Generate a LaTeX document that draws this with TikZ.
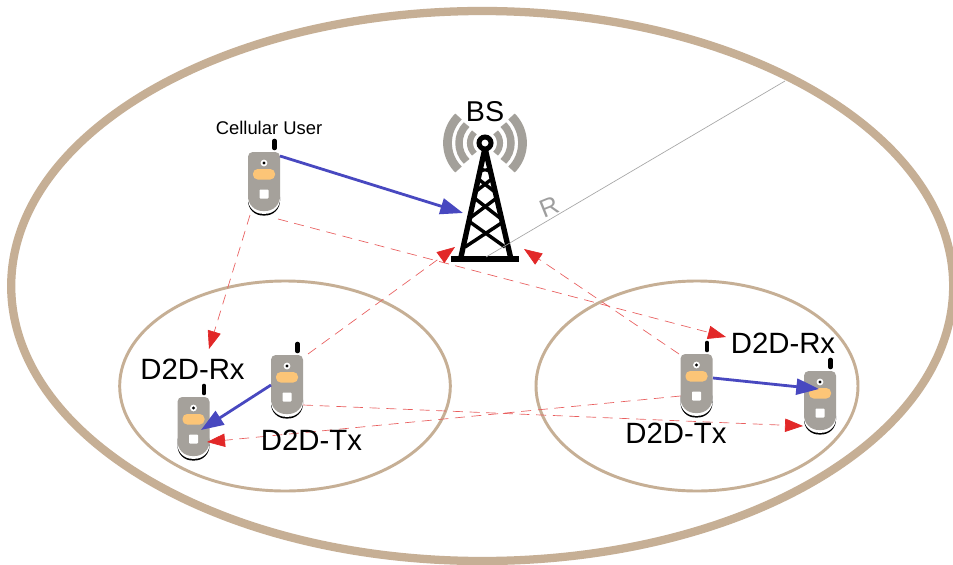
\documentclass[tikz,border=0pt]{standalone}
\usepackage{fontspec}
\setmainfont{Liberation Sans}
\usetikzlibrary{arrows.meta,calc,shapes.geometric}
\definecolor{rim}{HTML}{C6AF95}
\definecolor{phonegrey}{HTML}{A5A19B}
\definecolor{pill}{HTML}{FCC577}
\definecolor{linkblue}{HTML}{4848C0}
\definecolor{linkred}{HTML}{E22828}
\definecolor{wave}{HTML}{A3A09A}
\tikzset{
  rimring/.style={ellipse,draw=rim,inner sep=0pt,outer sep=0pt},
  phonebox/.style={rectangle,minimum width=24pt,minimum height=44pt,inner sep=0pt,outer sep=0pt},
  label22/.style={inner sep=0pt,font=\fontsize{22}{22}\selectfont},
  wantedlink/.style={draw=linkblue,line width=2.1pt,-{Triangle[length=17pt,width=12pt]}},
  interference/.style={draw=linkred!75,line width=0.5pt,dash pattern=on 7.5pt off 5pt,-{Triangle[length=13.5pt,width=10pt,color=linkred]}},
  legline/.style={line width=4pt,black},
  brace/.style={line width=2.6pt,black},
  waveline/.style={draw=wave},
}
% name, centre x, top y
\newcommand{\phonepic}[3]{%
  \begin{scope}[shift={(#2,#3)}]
    \draw[line width=3.5pt,line cap=round,black] (10.5,-11) -- (10.5,-4);
    \fill[black,rounded corners=11pt] (-16,30) -- (-16,63.5) -- (16,63.5) -- (16,30) -- cycle;
    \fill[white,rounded corners=11pt] (-16,30) -- (-16,61.8) -- (16,61.8) -- (16,30) -- cycle;
    \fill[phonegrey] (-16,30) [rounded corners=3.5pt] -- (-16,0) -- (16,0) [rounded corners=0pt] -- (16,30) [rounded corners=11pt] -- (16,59) -- (-16,59) [rounded corners=0pt] -- cycle;
    \fill[white] (0,11) circle[radius=3.4];
    \fill[black] (0,11) circle[radius=1.7];
    \fill[pill,rounded corners=3.5pt] (-11,17) rectangle (11,27.5);
    \fill[white,rounded corners=0.6pt] (-4.5,37.5) rectangle (4.5,46.5);
    \node[phonebox] (#1) at (0,30) {};
  \end{scope}}
\begin{document}
\begin{tikzpicture}[x=0.75pt,y=-0.75pt]
\useasboundingbox (0,0) rectangle (953,564);
\fill[white] (0,0) rectangle (953,564);
\begin{scope}
\clip (0,0) rectangle (953,564);
\node[rimring,line width=6.2pt,minimum width=706.5pt,minimum height=412.5pt] (cell) at (482.2,286) {};
\end{scope}
\node[rimring,line width=2.2pt,minimum width=248pt,minimum height=157.5pt] (leftcluster) at (285,386) {};
\node[rimring,line width=2.2pt,minimum width=241.5pt,minimum height=157.5pt] (rightcluster) at (697,386) {};

% tower
\node[rectangle,minimum width=51pt,minimum height=88pt,inner sep=0pt,outer sep=0pt] (bs) at (485,203) {};
\begin{scope}[shift={(485,143)}]
  \foreach \s in {1,-1}{
    \begin{scope}[xscale=\s]
    \draw[waveline,line width=4.6pt] (135:15) arc[start angle=135,end angle=225,radius=15];
    \draw[waveline,line width=5.6pt] (135:26) arc[start angle=135,end angle=225,radius=26];
    \draw[waveline,line width=6.6pt] (135:37.5) arc[start angle=135,end angle=225,radius=37.5];
    \end{scope}}
\end{scope}
\draw[legline] (485,148) -- (461,257);
\draw[legline] (485,148) -- (510.5,257);
\draw[brace] (465,247) -- (503,222);
\draw[brace] (505,247) -- (470,222);
\draw[brace] (470,218) -- (498,197);
\draw[brace] (500,218) -- (473,197);
\draw[brace] (475,192) -- (493,178);
\draw[brace] (495,192) -- (477,178);
\draw[line width=1.8pt] (479,172) -- (491,168);
\draw[line width=1.8pt] (491,172) -- (479,168);
\fill[black] (451,256) rectangle (519,262);
\draw[line width=3.75pt,black,fill=white] (485,143) circle[radius=6];

\phonepic{cu}{264}{152}
\phonepic{ltx}{287}{355}
\phonepic{lrx}{193.5}{397}
\phonepic{rtx}{696.5}{354}
\phonepic{rrx}{820}{371}

% radius line
\coordinate (rimpoint) at (785,81);
\draw[draw=black!35,line width=0.5pt] ($(bs)+(1,54)$) -- (rimpoint);

% interference
\draw[interference] ($(cu)+(-14,33)$) -- ($(lrx)+(15.5,-78)$);
\draw[interference] ($(cu)+(14,37)$) -- ($(rtx)+(29.5,-47)$);
\draw[interference] ($(ltx)+(21,-31)$) -- ($(bs)+(-30,44)$);
\draw[interference] ($(rtx)+(-17.5,-30)$) -- ($(bs)+(39,46)$);
\draw[interference] ($(ltx)+(16,20)$) -- ($(rrx)+(-17,25)$);
\draw[interference] ($(rtx)+(-16,12)$) -- ($(lrx)+(13.5,15)$);

% wanted
\draw[wantedlink] ($(cu)+(16,-26)$) -- ($(bs)+(-22,10)$);
\draw[wantedlink] ($(ltx)+(-16,0)$) -- ($(lrx)+(7.5,3)$);
\draw[wantedlink] ($(rtx)+(16.5,-6)$) -- ($(rrx)+(-1,-12)$);

% labels
\node[inner sep=0pt,font=\fontsize{13.8}{14}\selectfont] (culabel) at (269,128) {Cellular User};
\node[inner sep=0pt,font=\fontsize{21.5}{22}\selectfont] (bslabel) at (485,112) {BS};
\node[label22] (lrxlabel) at (192.5,369) {D2D-Rx};
\node[label22] (ltxlabel) at (311.5,440) {D2D-Tx};
\node[label22] (rrxlabel) at (783,343) {D2D-Rx};
\node[label22] (rtxlabel) at (676,433) {D2D-Tx};
\node[inner sep=0pt,text=black!38,rotate=22,font=\fontsize{19}{19}\selectfont] (rlabel) at (549,207) {R};
\end{tikzpicture}
\end{document}
